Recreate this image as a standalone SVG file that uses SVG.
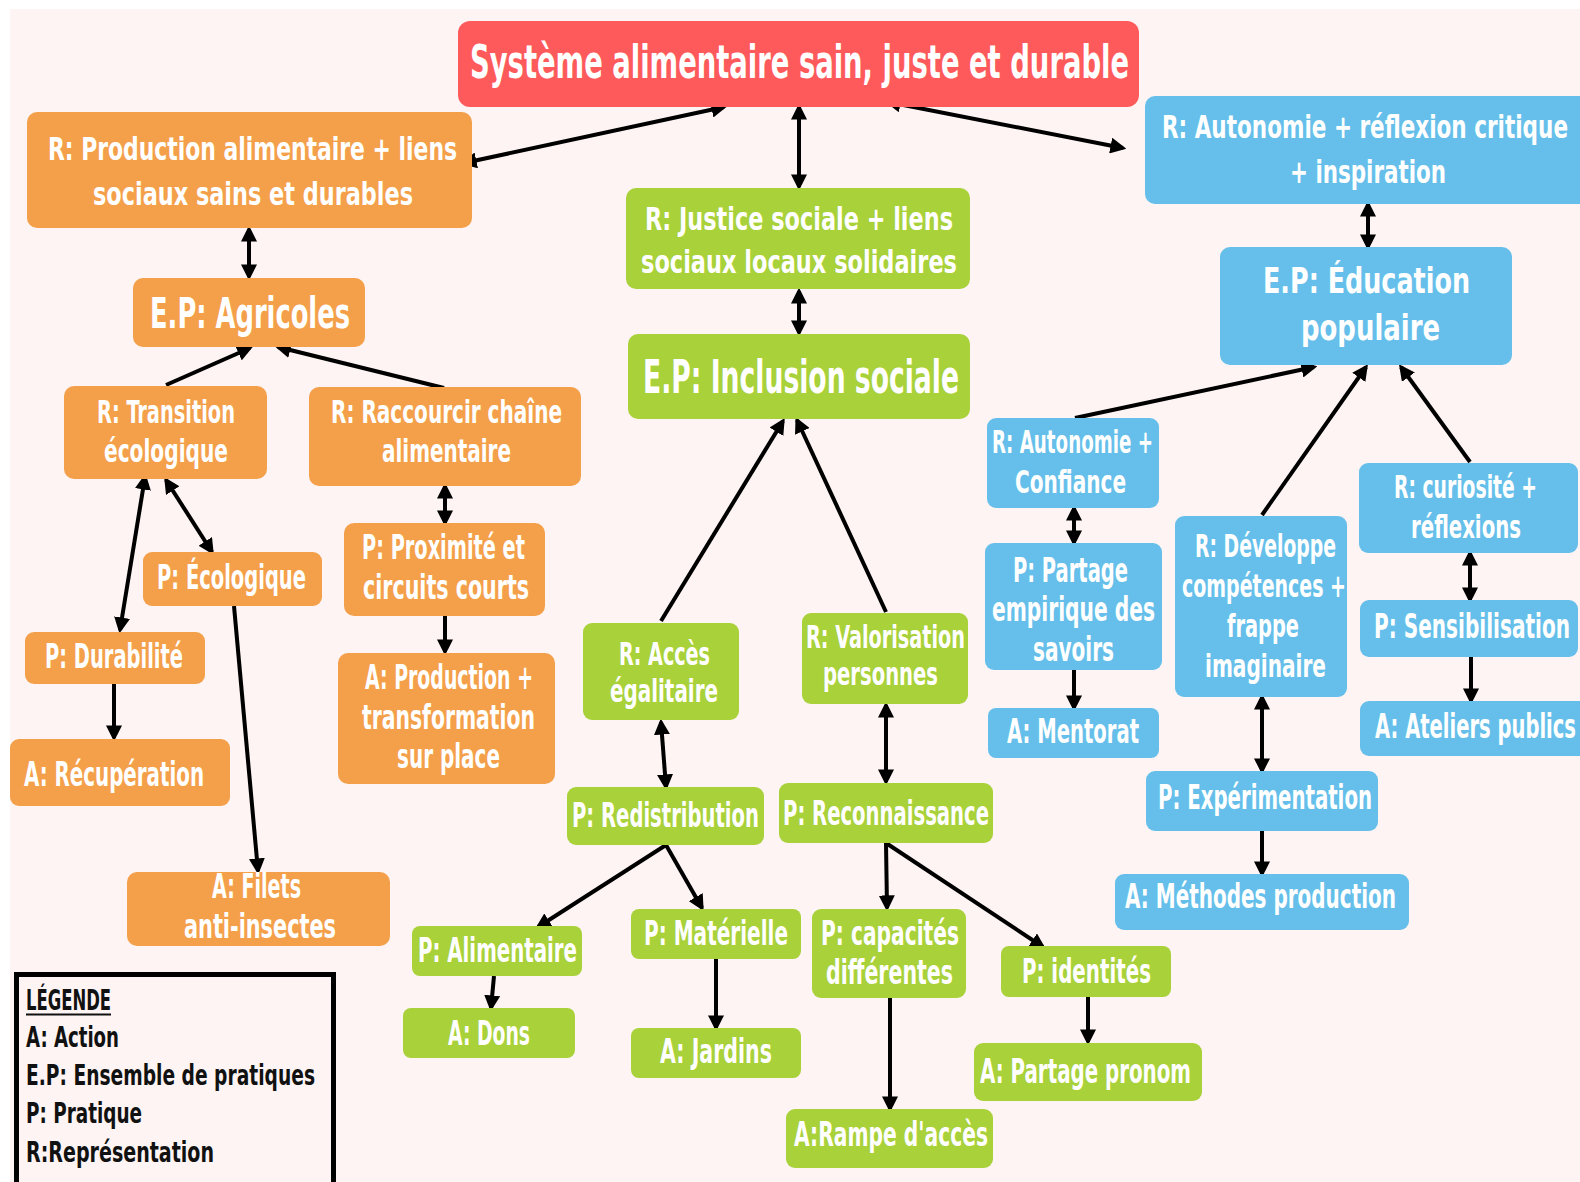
<svg xmlns="http://www.w3.org/2000/svg" width="1580" height="1182" viewBox="0 0 1580 1182">
<style>
.bg{fill:#FDF4F3}
.red{fill:#FF5A5B}
.or{fill:#F4A04A}
.gr{fill:#A9D13A}
.bl{fill:#65BFEA}
text{font-family:"Liberation Sans Narrow","DejaVu Sans Condensed","Liberation Sans",sans-serif;font-stretch:condensed;font-weight:bold;fill:#fff}
.s32{font-size:32px}.s33{font-size:33px}.s36{font-size:36px}.s42{font-size:42px}.s46{font-size:46px}.s47{font-size:47px}
.lg{font-size:29px;fill:#111}
.c line{stroke:#000;stroke-width:4;marker-end:url(#ah)}
.c line.d{marker-start:url(#ah)}
</style>
<defs>
<marker id="ah" markerUnits="userSpaceOnUse" markerWidth="16" markerHeight="16" viewBox="0 0 14 14" refX="11" refY="7" orient="auto-start-reverse"><path d="M0,0 L14,7 L0,14 z" fill="#000"/></marker>
</defs>
<rect width="1580" height="1182" fill="#fff"/>
<rect class="bg" x="10" y="9" width="1570" height="1173"/>

<g class="c">
<line class="d" x1="464" y1="163" x2="724" y2="107"/>
<line class="d" x1="799" y1="107" x2="799" y2="187"/>
<line class="d" x1="888" y1="102" x2="1123" y2="148"/>
<line class="d" x1="249" y1="229" x2="249" y2="277"/>
<line class="d" x1="799" y1="291" x2="799" y2="333"/>
<line class="d" x1="1368" y1="204" x2="1368" y2="247"/>
<line x1="166" y1="385" x2="250" y2="348"/>
<line x1="444" y1="388" x2="278" y2="347"/>
<line class="d" x1="145" y1="477" x2="120" y2="630"/>
<line class="d" x1="166" y1="480" x2="212" y2="552"/>
<line x1="114" y1="684" x2="114" y2="738"/>
<line x1="234" y1="606" x2="258" y2="871"/>
<line class="d" x1="445" y1="486" x2="445" y2="523"/>
<line x1="445" y1="616" x2="445" y2="652"/>
<line x1="661" y1="621" x2="783" y2="421"/>
<line x1="886" y1="612" x2="797" y2="420"/>
<line class="d" x1="661" y1="722" x2="666" y2="787"/>
<line class="d" x1="886" y1="705" x2="886" y2="782"/>
<line x1="666" y1="845" x2="538" y2="927"/>
<line x1="666" y1="845" x2="702" y2="908"/>
<line x1="494" y1="976" x2="491" y2="1008"/>
<line x1="716" y1="959" x2="716" y2="1028"/>
<line x1="886" y1="843" x2="887" y2="908"/>
<line x1="886" y1="843" x2="1043" y2="947"/>
<line x1="890" y1="998" x2="890" y2="1109"/>
<line x1="1088" y1="997" x2="1088" y2="1042"/>
<line x1="1075" y1="418" x2="1314" y2="367"/>
<line x1="1262" y1="515" x2="1366" y2="367"/>
<line x1="1470" y1="462" x2="1401" y2="367"/>
<line class="d" x1="1074" y1="508" x2="1074" y2="543"/>
<line x1="1074" y1="670" x2="1074" y2="708"/>
<line class="d" x1="1262" y1="697" x2="1262" y2="771"/>
<line x1="1262" y1="831" x2="1262" y2="874"/>
<line class="d" x1="1470" y1="553" x2="1470" y2="600"/>
<line x1="1471" y1="657" x2="1471" y2="701"/>
</g>

<g id="title"><rect class="red" x="458" y="21" width="681" height="86" rx="12"/>
<text class="s47" x="470" y="78" textLength="659" lengthAdjust="spacingAndGlyphs">Système alimentaire sain, juste et durable</text></g>

<g id="r-production"><rect class="or" x="27" y="112" width="445" height="116" rx="10"/>
<text class="s32" x="48" y="160" textLength="409" lengthAdjust="spacingAndGlyphs">R: Production alimentaire + liens</text>
<text class="s32" x="93" y="205" textLength="320" lengthAdjust="spacingAndGlyphs">sociaux sains et durables</text></g>

<g id="ep-agricoles"><rect class="or" x="133" y="278" width="232" height="69" rx="10"/>
<text class="s42" x="150" y="328" textLength="200" lengthAdjust="spacingAndGlyphs">E.P: Agricoles</text></g>

<g id="r-justice"><rect class="gr" x="626" y="188" width="344" height="101" rx="10"/>
<text class="s32" x="645" y="230" textLength="308" lengthAdjust="spacingAndGlyphs">R: Justice sociale + liens</text>
<text class="s32" x="641" y="273" textLength="316" lengthAdjust="spacingAndGlyphs">sociaux locaux solidaires</text></g>

<g id="ep-inclusion"><rect class="gr" x="628" y="334" width="342" height="85" rx="10"/>
<text class="s46" x="643" y="393" textLength="316" lengthAdjust="spacingAndGlyphs">E.P: Inclusion sociale</text></g>

<g id="r-autonomie-critique"><rect class="bl" x="1145" y="96" width="450" height="108" rx="10"/>
<text class="s32" x="1162" y="138" textLength="406" lengthAdjust="spacingAndGlyphs">R: Autonomie + réflexion critique</text>
<text class="s32" x="1290" y="183" textLength="156" lengthAdjust="spacingAndGlyphs">+ inspiration</text></g>

<g id="ep-education"><rect class="bl" x="1220" y="247" width="292" height="118" rx="10"/>
<text class="s36" x="1263" y="293" textLength="207" lengthAdjust="spacingAndGlyphs">E.P: Éducation</text>
<text class="s36" x="1301" y="340" textLength="139" lengthAdjust="spacingAndGlyphs">populaire</text></g>

<g id="r-transition"><rect class="or" x="64" y="386" width="203" height="93" rx="10"/>
<text class="s32" x="97" y="423" textLength="138" lengthAdjust="spacingAndGlyphs">R: Transition</text>
<text class="s32" x="104" y="462" textLength="124" lengthAdjust="spacingAndGlyphs">écologique</text></g>

<g id="r-raccourcir"><rect class="or" x="309" y="387" width="272" height="99" rx="10"/>
<text class="s32" x="331" y="423" textLength="231" lengthAdjust="spacingAndGlyphs">R: Raccourcir chaîne</text>
<text class="s32" x="382" y="462" textLength="129" lengthAdjust="spacingAndGlyphs">alimentaire</text></g>

<g id="p-ecologique"><rect class="or" x="143" y="552" width="179" height="54" rx="9"/>
<text class="s33" x="157" y="589" textLength="149" lengthAdjust="spacingAndGlyphs">P: Écologique</text></g>

<g id="p-durabilite"><rect class="or" x="25" y="632" width="180" height="52" rx="9"/>
<text class="s33" x="45" y="668" textLength="138" lengthAdjust="spacingAndGlyphs">P: Durabilité</text></g>

<g id="a-recuperation"><rect class="or" x="10" y="739" width="220" height="67" rx="9"/>
<text class="s33" x="24" y="786" textLength="180" lengthAdjust="spacingAndGlyphs">A: Récupération</text></g>

<g id="p-proximite"><rect class="or" x="344" y="523" width="201" height="93" rx="10"/>
<text class="s33" x="362" y="559" textLength="163" lengthAdjust="spacingAndGlyphs">P: Proximité et</text>
<text class="s33" x="363" y="599" textLength="166" lengthAdjust="spacingAndGlyphs">circuits courts</text></g>

<g id="a-production"><rect class="or" x="338" y="653" width="217" height="131" rx="10"/>
<text class="s33" x="365" y="689" textLength="168" lengthAdjust="spacingAndGlyphs">A: Production +</text>
<text class="s33" x="362" y="729" textLength="173" lengthAdjust="spacingAndGlyphs">transformation</text>
<text class="s33" x="397" y="768" textLength="103" lengthAdjust="spacingAndGlyphs">sur place</text></g>

<g id="a-filets"><rect class="or" x="127" y="872" width="263" height="74" rx="10"/>
<text class="s33" x="212" y="898" textLength="89" lengthAdjust="spacingAndGlyphs">A: Filets</text>
<text class="s33" x="184" y="938" textLength="152" lengthAdjust="spacingAndGlyphs">anti-insectes</text></g>

<g id="r-acces"><rect class="gr" x="583" y="623" width="156" height="97" rx="9"/>
<text class="s32" x="619" y="665" textLength="91" lengthAdjust="spacingAndGlyphs">R: Accès</text>
<text class="s32" x="610" y="702" textLength="108" lengthAdjust="spacingAndGlyphs">égalitaire</text></g>

<g id="r-valorisation"><rect class="gr" x="802" y="613" width="166" height="91" rx="9"/>
<text class="s32" x="806" y="648" textLength="159" lengthAdjust="spacingAndGlyphs">R: Valorisation</text>
<text class="s32" x="823" y="685" textLength="115" lengthAdjust="spacingAndGlyphs">personnes</text></g>

<g id="p-redistribution"><rect class="gr" x="567" y="787" width="197" height="58" rx="9"/>
<text class="s33" x="572" y="827" textLength="187" lengthAdjust="spacingAndGlyphs">P: Redistribution</text></g>

<g id="p-reconnaissance"><rect class="gr" x="779" y="783" width="214" height="60" rx="9"/>
<text class="s33" x="783" y="825" textLength="206" lengthAdjust="spacingAndGlyphs">P: Reconnaissance</text></g>

<g id="p-alimentaire"><rect class="gr" x="412" y="926" width="170" height="50" rx="8"/>
<text class="s33" x="418" y="962" textLength="159" lengthAdjust="spacingAndGlyphs">P: Alimentaire</text></g>

<g id="p-materielle"><rect class="gr" x="631" y="909" width="170" height="50" rx="8"/>
<text class="s33" x="644" y="945" textLength="144" lengthAdjust="spacingAndGlyphs">P: Matérielle</text></g>

<g id="a-dons"><rect class="gr" x="403" y="1008" width="172" height="50" rx="8"/>
<text class="s33" x="448" y="1045" textLength="82" lengthAdjust="spacingAndGlyphs">A: Dons</text></g>

<g id="a-jardins"><rect class="gr" x="631" y="1028" width="170" height="50" rx="8"/>
<text class="s33" x="660" y="1063" textLength="112" lengthAdjust="spacingAndGlyphs">A: Jardins</text></g>

<g id="p-capacites"><rect class="gr" x="812" y="909" width="154" height="89" rx="9"/>
<text class="s33" x="821" y="945" textLength="138" lengthAdjust="spacingAndGlyphs">P: capacités</text>
<text class="s33" x="826" y="984" textLength="127" lengthAdjust="spacingAndGlyphs">différentes</text></g>

<g id="p-identites"><rect class="gr" x="1001" y="946" width="170" height="51" rx="8"/>
<text class="s33" x="1022" y="983" textLength="129" lengthAdjust="spacingAndGlyphs">P: identités</text></g>

<g id="a-rampe"><rect class="gr" x="786" y="1109" width="207" height="59" rx="9"/>
<text class="s33" x="794" y="1146" textLength="194" lengthAdjust="spacingAndGlyphs">A:Rampe d'accès</text></g>

<g id="a-partage-pronom"><rect class="gr" x="974" y="1043" width="228" height="58" rx="9"/>
<text class="s33" x="980" y="1083" textLength="211" lengthAdjust="spacingAndGlyphs">A: Partage pronom</text></g>

<g id="p-experimentation"><rect class="bl" x="1146" y="771" width="232" height="60" rx="9"/>
<text class="s33" x="1158" y="809" textLength="214" lengthAdjust="spacingAndGlyphs">P: Expérimentation</text></g>

<g id="a-methodes"><rect class="bl" x="1115" y="874" width="294" height="56" rx="9"/>
<text class="s33" x="1125" y="908" textLength="271" lengthAdjust="spacingAndGlyphs">A: Méthodes production</text></g>

<g id="r-autonomie-confiance"><rect class="bl" x="987" y="418" width="172" height="90" rx="9"/>
<text class="s32" x="992" y="453" textLength="161" lengthAdjust="spacingAndGlyphs">R: Autonomie +</text>
<text class="s32" x="1015" y="493" textLength="111" lengthAdjust="spacingAndGlyphs">Confiance</text></g>

<g id="p-partage-savoirs"><rect class="bl" x="985" y="543" width="177" height="127" rx="9"/>
<text class="s33" x="1013" y="582" textLength="115" lengthAdjust="spacingAndGlyphs">P: Partage</text>
<text class="s33" x="992" y="621" textLength="163" lengthAdjust="spacingAndGlyphs">empirique des</text>
<text class="s33" x="1033" y="661" textLength="81" lengthAdjust="spacingAndGlyphs">savoirs</text></g>

<g id="a-mentorat"><rect class="bl" x="988" y="708" width="171" height="50" rx="8"/>
<text class="s33" x="1007" y="743" textLength="132" lengthAdjust="spacingAndGlyphs">A: Mentorat</text></g>

<g id="r-developpe"><rect class="bl" x="1175" y="516" width="172" height="181" rx="9"/>
<text class="s32" x="1195" y="557" textLength="141" lengthAdjust="spacingAndGlyphs">R: Développe</text>
<text class="s32" x="1182" y="597" textLength="164" lengthAdjust="spacingAndGlyphs">compétences +</text>
<text class="s32" x="1227" y="637" textLength="72" lengthAdjust="spacingAndGlyphs">frappe</text>
<text class="s32" x="1205" y="677" textLength="121" lengthAdjust="spacingAndGlyphs">imaginaire</text></g>

<g id="r-curiosite"><rect class="bl" x="1359" y="463" width="219" height="90" rx="9"/>
<text class="s32" x="1394" y="498" textLength="143" lengthAdjust="spacingAndGlyphs">R: curiosité +</text>
<text class="s32" x="1411" y="538" textLength="110" lengthAdjust="spacingAndGlyphs">réflexions</text></g>

<g id="p-sensibilisation"><rect class="bl" x="1360" y="600" width="218" height="57" rx="9"/>
<text class="s33" x="1374" y="638" textLength="196" lengthAdjust="spacingAndGlyphs">P: Sensibilisation</text></g>

<g id="a-ateliers"><rect class="bl" x="1360" y="701" width="235" height="55" rx="9"/>
<text class="s33" x="1375" y="738" textLength="201" lengthAdjust="spacingAndGlyphs">A: Ateliers publics</text></g>

<g id="legende">
<rect x="16.5" y="974.5" width="317" height="230" fill="none" stroke="#000" stroke-width="5"/>
<text class="lg" x="26" y="1010" textLength="85" lengthAdjust="spacingAndGlyphs">LÉGENDE</text>
<line x1="26" y1="1014.5" x2="111" y2="1014.5" stroke="#111" stroke-width="2"/>
<text class="lg" x="26" y="1047" textLength="93" lengthAdjust="spacingAndGlyphs">A: Action</text>
<text class="lg" x="26" y="1085" textLength="289" lengthAdjust="spacingAndGlyphs">E.P: Ensemble de pratiques</text>
<text class="lg" x="26" y="1123" textLength="116" lengthAdjust="spacingAndGlyphs">P: Pratique</text>
<text class="lg" x="26" y="1162" textLength="188" lengthAdjust="spacingAndGlyphs">R:Représentation</text>
</g>
</svg>
